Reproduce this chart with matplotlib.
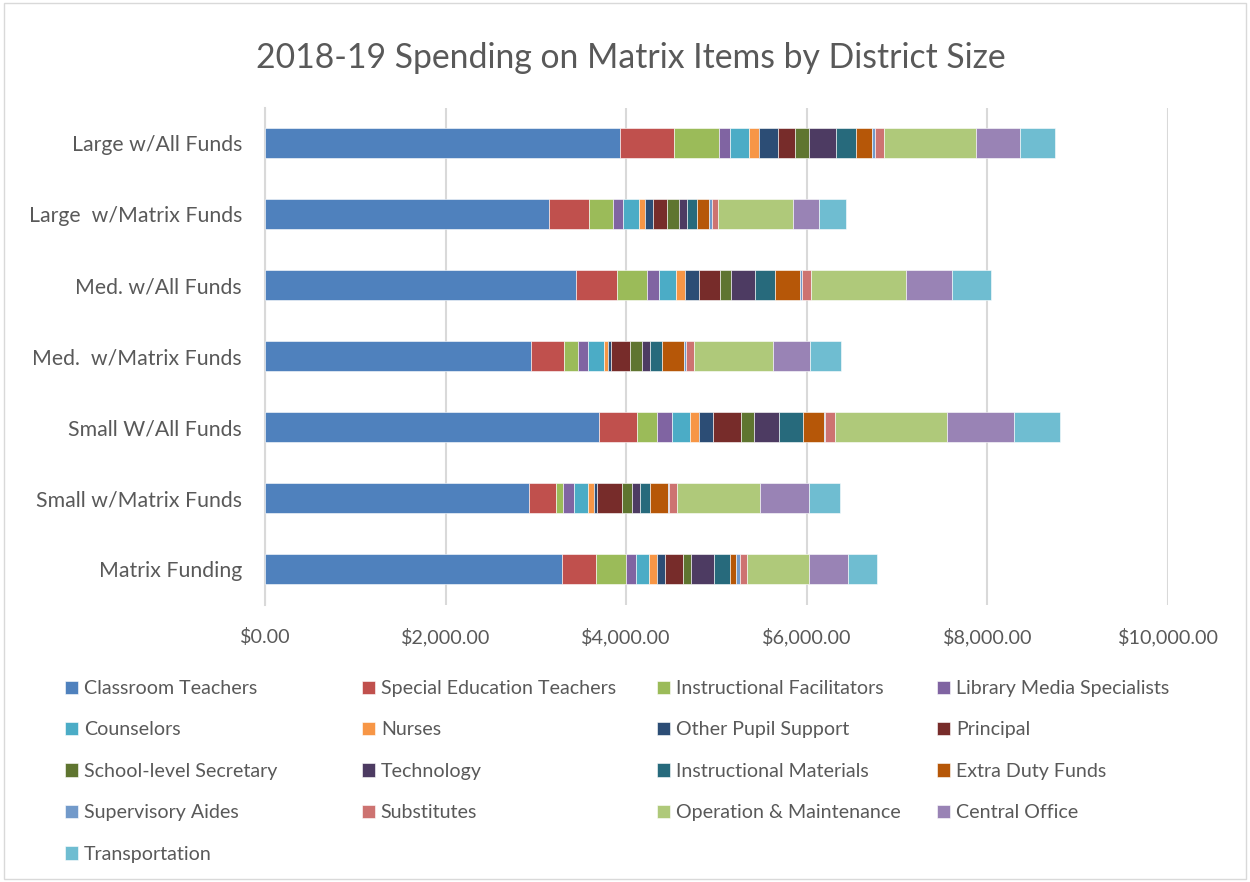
import numpy as np
import matplotlib.pyplot as plt
from matplotlib.ticker import FuncFormatter

# categories (bottom to top)
groups = ["Matrix Funding", "Small w/Matrix Funds", "Small W/All Funds",
          "Med.  w/Matrix Funds", "Med. w/All Funds", "Large  w/Matrix Funds",
          "Large w/All Funds"]

items = ["Classroom Teachers", "Special Education Teachers", "Instructional Facilitators",
         "Library Media Specialists", "Counselors", "Nurses", "Other Pupil Support",
         "Principal", "School-level Secretary", "Technology", "Instructional Materials",
         "Extra Duty Funds", "Supervisory Aides", "Substitutes", "Operation & Maintenance",
         "Central Office", "Transportation"]

colors = ["#4F81BD", "#C0504D", "#9BBB59", "#8064A2", "#4BACC6", "#F79646", "#2C4D75",
          "#772C2A", "#5F7530", "#4D3B62", "#276A7C", "#B65708", "#729ACA", "#CD7371",
          "#AFC97A", "#9983B5", "#6FBDD1"]

# spending per item, one list per group (same order as groups)
matrix_funding = [3284, 377, 335, 115, 140, 92, 92, 196, 92, 244, 184, 63, 48, 74, 686, 439, 321]
small_matrix = [2927, 301, 68, 129, 153, 64, 40, 274, 112, 85, 112, 201, 12, 89, 920, 535, 350]
small_all = [3703, 418, 221, 161, 205, 100, 149, 313, 141, 277, 270, 229, 16, 104, 1247, 739, 507]
med_matrix = [2941, 366, 160, 114, 175, 42, 38, 206, 129, 96, 133, 244, 15, 88, 880, 407, 343]
med_all = [3448, 453, 331, 134, 190, 99, 156, 229, 126, 259, 225, 274, 19, 103, 1055, 510, 427]
large_matrix = [3150, 436, 273, 104, 177, 63, 92, 155, 140, 81, 108, 143, 26, 74, 823, 288, 299]
large_all = [3929, 598, 503, 114, 214, 118, 203, 185, 163, 294, 222, 174, 33, 103, 1026, 480, 387]

data = np.array([matrix_funding, small_matrix, small_all, med_matrix,
                 med_all, large_matrix, large_all])

plt.rcParams["font.family"] = ["Lato", "DejaVu Sans"]
txt = "#595959"

fig = plt.figure(figsize=(12.5, 8.82), dpi=100)
ax = fig.add_axes([0.212, 0.3146, 0.7224, 0.5635])

y = np.arange(len(groups))
left = np.zeros(len(groups))
handles = []
for i in range(len(items)):
    b = ax.barh(y, data[:, i], left=left, height=0.41, color=colors[i],
                edgecolor="white", linewidth=0.4, label=items[i], zorder=3)
    handles.append(b)
    left += data[:, i]

ax.set_xlim(0, 10000)
ax.set_ylim(-0.5, 6.5)
ax.set_xticks(np.arange(0, 10001, 2000))
ax.xaxis.set_major_formatter(FuncFormatter(lambda v, p: "${:,.2f}".format(v)))
ax.set_yticks(y)
ax.set_yticklabels(groups)
ax.tick_params(axis="both", length=0, colors=txt)
ax.tick_params(axis="y", pad=16.5, labelsize=15.3)
ax.tick_params(axis="x", pad=17, labelsize=14.2)
ax.grid(axis="x", color="#D9D9D9", linewidth=1.5, zorder=0)
for s in ["top", "right", "bottom"]:
    ax.spines[s].set_visible(False)
ax.spines["left"].set_color("#D9D9D9")
ax.spines["left"].set_linewidth(1.5)

fig.text(0.505, 0.934, "2018-19 Spending on Matrix Items by District Size",
         ha="center", va="center", fontsize=24.3, color=txt)

# legend: one legend per column so the columns sit where the original has them
col_x = [65, 362, 657, 937]
for c in range(4):
    idx = list(range(c, len(items), 4))
    leg = fig.legend([handles[k] for k in idx], [items[k] for k in idx],
                     loc="upper left", bbox_to_anchor=(col_x[c] / 1250, 1 - 680 / 882),
                     frameon=False, fontsize=14.1, handlelength=0.66, handleheight=0.66,
                     handletextpad=0.3, labelspacing=1.25, borderpad=0, borderaxespad=0)
    for t in leg.get_texts():
        t.set_color(txt)

fig.patches.append(plt.Rectangle((0.003, 0.003), 0.994, 0.994, transform=fig.transFigure,
                                 fill=False, edgecolor="#D9D9D9", linewidth=1))

plt.savefig("out.png")
plt.close()
